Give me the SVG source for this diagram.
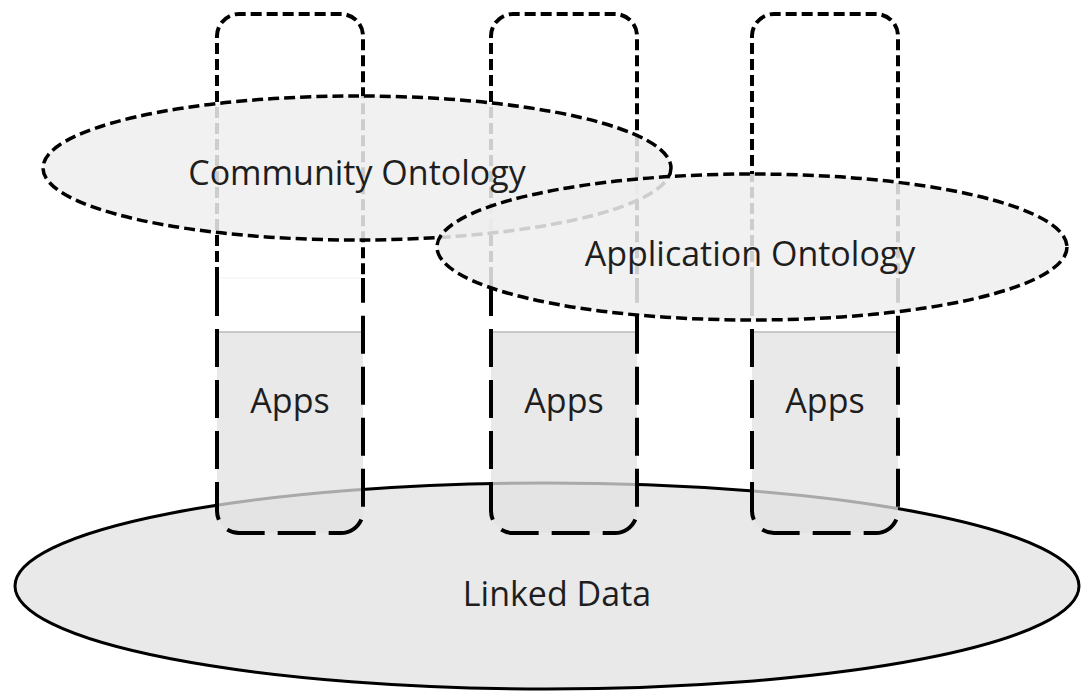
<svg xmlns="http://www.w3.org/2000/svg" width="1090" height="693" viewBox="0 0 1090 693">
<style>
.up{fill:none;stroke:#000;stroke-width:4;stroke-dasharray:11 5}
.low{fill:none;stroke:#000;stroke-width:4;stroke-dasharray:38 13}
.white{fill:#fff}
.appsfill{fill:#e2e2e2;fill-opacity:0.75}
.topline{stroke:#b8b8b8;stroke-width:1.5}
.faint{stroke:#f2f2f2;stroke-width:1}
.onto{fill:#efefef;fill-opacity:0.86;stroke:#000;stroke-width:3.5;stroke-dasharray:11 5}
.ld{fill:#e9e9e9;stroke:#000;stroke-width:3}
.lbl{font-family:"Open Sans","Liberation Sans",sans-serif;font-size:34px;fill:#1e1e1e;text-anchor:middle}
</style>
<rect width="1090" height="693" fill="#fff"/>
<g id="linked-data">
<ellipse class="ld" cx="547" cy="586" rx="532" ry="103"/>
<text class="lbl" x="557" y="606">Linked Data</text>
</g>
<g id="pillar-1">
<path class="white" d="M217 278 V36 a22 22 0 0 1 22 -22 H341 a22 22 0 0 1 22 22 V332 H217 Z"/>
<path class="appsfill" d="M217 332 H363 V511 a22 22 0 0 1 -22 22 H239 a22 22 0 0 1 -22 -22 Z"/>
<line class="faint" x1="219" y1="278" x2="361" y2="278"/>
<line class="topline" x1="218" y1="332" x2="362" y2="332"/>
<path class="up" d="M217 278 V36 a22 22 0 0 1 22 -22 H341 a22 22 0 0 1 22 22 V278"/>
<path class="low" d="M217 278 V511 a22 22 0 0 0 22 22 H341 a22 22 0 0 0 22 -22 V278"/>
<text class="lbl" x="290" y="413">Apps</text>
</g>
<g id="pillar-2">
<path class="white" d="M491 278 V36 a22 22 0 0 1 22 -22 H615 a22 22 0 0 1 22 22 V332 H491 Z"/>
<path class="appsfill" d="M491 332 H637 V511 a22 22 0 0 1 -22 22 H513 a22 22 0 0 1 -22 -22 Z"/>
<line class="topline" x1="492" y1="332" x2="636" y2="332"/>
<path class="up" d="M491 278 V36 a22 22 0 0 1 22 -22 H615 a22 22 0 0 1 22 22 V278"/>
<path class="low" d="M491 278 V511 a22 22 0 0 0 22 22 H615 a22 22 0 0 0 22 -22 V278"/>
<text class="lbl" x="564" y="413">Apps</text>
</g>
<g id="pillar-3">
<path class="white" d="M752 278 V36 a22 22 0 0 1 22 -22 H876 a22 22 0 0 1 22 22 V332 H752 Z"/>
<path class="appsfill" d="M752 332 H898 V511 a22 22 0 0 1 -22 22 H774 a22 22 0 0 1 -22 -22 Z"/>
<line class="topline" x1="753" y1="332" x2="897" y2="332"/>
<path class="up" d="M752 278 V36 a22 22 0 0 1 22 -22 H876 a22 22 0 0 1 22 22 V278"/>
<path class="low" d="M752 278 V511 a22 22 0 0 0 22 22 H876 a22 22 0 0 0 22 -22 V278"/>
<text class="lbl" x="825" y="413">Apps</text>
</g>
<g id="community-ontology">
<ellipse class="onto" cx="357" cy="168" rx="314" ry="72"/>
<text class="lbl" x="357" y="185">Community Ontology</text>
</g>
<g id="application-ontology">
<ellipse class="onto" cx="752" cy="247" rx="315" ry="73"/>
<text class="lbl" x="750" y="266">Application Ontology</text>
</g>
<g id="connectors"></g>
</svg>
